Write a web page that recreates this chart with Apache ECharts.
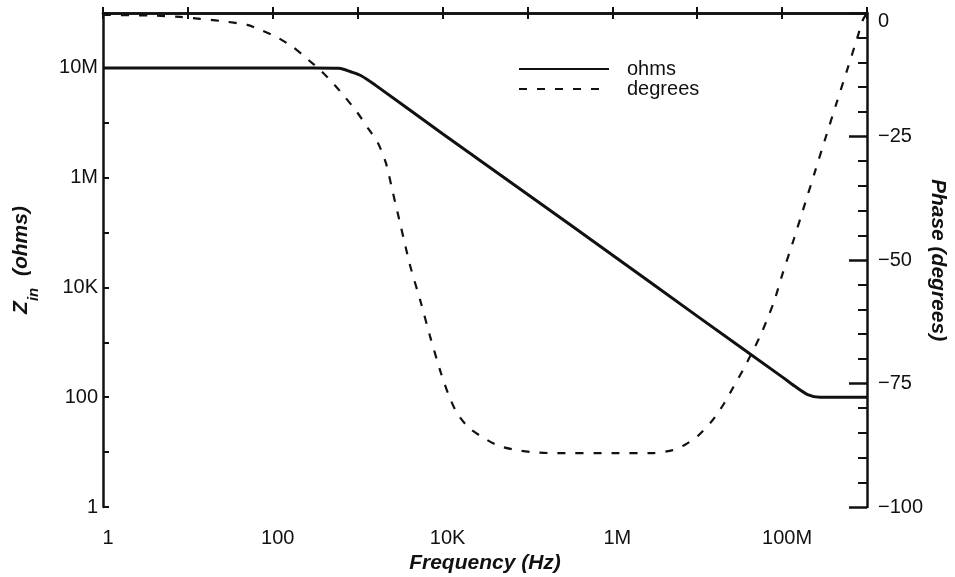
<!DOCTYPE html>
<html>
<head>
<meta charset="utf-8">
<style>
  html, body { margin: 0; padding: 0; background: #ffffff; }
  #chart { width: 955px; height: 577px; }
</style>
<script src="https://cdn.jsdelivr.net/npm/echarts@6/dist/echarts.min.js"></script>
</head>
<body>
<div id="chart"></div>
<script>
// Input impedance (ohms) vs frequency (Hz)
const freqZ = [1, 300, 600, 830, 1100, 1600, 1e4, 1e5, 1e6, 1e7, 1e8, 1.4e8, 2e8, 2.8e8, 1e9];
const ohms  = [1e8, 1e8, 9.8e7, 8.5e7, 7.2e7, 4.9e7, 6.3e6, 5.0e5, 3.9e4, 3.0e3, 235, 160, 112, 100, 100];

// Phase (degrees) vs frequency (Hz)
const freqP = [1, 3.6, 8.1, 14, 24, 50, 71, 112, 173, 239, 360,
  512, 708, 977, 1320, 1734, 2155, 2604, 3236, 4130, 5570, 7110, 9580,
  1.19e4, 1.48e4, 2.05e4, 3.33e4, 4.74e4, 7.52e4, 1.16e5, 2e5, 1e6, 2.92e6,
  5.17e6, 7.17e6, 1.02e7, 1.49e7, 2.01e7, 2.63e7, 3.45e7, 4.53e7, 5.78e7, 8.0e7,
  1.02e8, 1.38e8, 1.76e8, 2.43e8, 3.19e8, 4.42e8, 5.79e8, 7.6e8, 8.95e8, 1e9];
const degrees = [-0.4, -0.5, -0.8, -1.2, -1.6, -2.4, -3.4, -4.9, -6.9, -8.9, -11.5,
  -14.2, -17.0, -20.0, -23.3, -26.3, -30.4, -36.4, -43.3, -51.0, -58.7, -65.4, -72.9,
  -77.5, -81.0, -84.0, -86.4, -87.7, -88.5, -88.9, -89.1, -89.1, -89.1,
  -88.5, -87.4, -85.6, -82.6, -79.4, -75.9, -72.3, -68.4, -64.6, -58.5,
  -52.6, -45.7, -39.9, -32.2, -25.7, -18.0, -11.7, -5.3, -1.4, 0];

// Tick labels (exponent -> text), as printed on the chart
const xTickLabels = {0: '1', 2: '100', 4: '10K', 6: '1M', 8: '100M'};
const yTickLabels = {0: '1', 2: '100', 4: '10K', 6: '1M', 8: '10M'};
const phaseTickLabels = {0: '{top|0}', '-25': '\u221225', '-50': '\u221250', '-75': '\u221275', '-100': '\u2212100'};

const FONT = '"Liberation Sans", Arial, Helvetica, sans-serif';
const chart = echarts.init(document.getElementById('chart'), null, {renderer: 'canvas'});

function expOf(v) { return Math.round(Math.log10(v)); }

const axisLineStyle = {color: '#111', width: 2.5};

const option = {
  backgroundColor: '#ffffff',
  animation: false,
  grid: {left: 103, right: 88, top: 13, bottom: 70, containLabel: false, outerBoundsMode: 'none'},
  legend: {
    orient: 'vertical',
    left: 518, top: 59, padding: 0,
    itemWidth: 90, itemHeight: 14, itemGap: 0,
    data: ['ohms', 'degrees'],
    itemStyle: {opacity: 0},
    textStyle: {fontFamily: FONT, fontSize: 20, lineHeight: 19, color: '#111', padding: [0, 0, 0, 13]}
  },
  xAxis: [{
    type: 'log', logBase: 10, min: 1, max: 1e9,
    position: 'bottom',
    name: 'Frequency (Hz)', nameLocation: 'middle', nameGap: 46,
    nameTextStyle: {fontFamily: FONT, fontSize: 21, fontWeight: 'bold', fontStyle: 'italic', color: '#111'},
    axisLine: {show: true, lineStyle: axisLineStyle},
    axisTick: {show: true, inside: true, length: 6, lineStyle: {color: '#111', width: 2}},
    axisLabel: {
      fontFamily: FONT, fontSize: 20, color: '#111', margin: 21, padding: [0, 0, 0, 10],
      formatter: v => (xTickLabels[expOf(v)] !== undefined ? xTickLabels[expOf(v)] : '')
    },
    splitLine: {show: false}
  }, {
    type: 'log', logBase: 10, min: 1, max: 1e9,
    position: 'top',
    axisLine: {show: true, lineStyle: axisLineStyle},
    axisTick: {show: true, inside: true, length: 6, lineStyle: {color: '#111', width: 2}},
    axisLabel: {show: false},
    splitLine: {show: false}
  }],
  yAxis: [{
    type: 'log', logBase: 10, min: 1, max: 1e9, interval: 1,
    position: 'left',
    name: '{z|Z}{s|in}{z|  (ohms)}', nameLocation: 'middle', nameGap: 62, nameRotate: 90,
    nameTextStyle: {
      fontFamily: FONT, color: '#111',
      rich: {
        z: {fontFamily: FONT, fontSize: 21, fontWeight: 'bold', fontStyle: 'italic', color: '#111', lineHeight: 40, verticalAlign: 'middle'},
        s: {fontFamily: FONT, fontSize: 15, fontWeight: 'bold', fontStyle: 'italic', color: '#111', verticalAlign: 'bottom'}
      }
    },
    axisLine: {show: true, lineStyle: axisLineStyle},
    axisTick: {show: true, inside: true, length: 6, lineStyle: {color: '#111', width: 2}},
    axisLabel: {
      fontFamily: FONT, fontSize: 20, color: '#111', margin: 5,
      formatter: v => (yTickLabels[expOf(v)] !== undefined ? yTickLabels[expOf(v)] : '')
    },
    splitLine: {show: false}
  }, {
    type: 'value', min: -100, max: 0, interval: 25,
    position: 'right',
    name: 'Phase (degrees)', nameLocation: 'middle', nameGap: 60, nameRotate: -90,
    nameMoveOverlap: false,
    nameTextStyle: {fontFamily: FONT, fontSize: 21, fontWeight: 'bold', fontStyle: 'italic', color: '#111'},
    axisLine: {show: true, lineStyle: axisLineStyle},
    axisTick: {show: true, inside: true, length: 18, lineStyle: {color: '#111', width: 2.5}},
    minorTick: {show: true, splitNumber: 5, length: 9, lineStyle: {color: '#111', width: 2}},
    axisLabel: {
      fontFamily: FONT, fontSize: 20, color: '#111', margin: 11,
      formatter: v => (phaseTickLabels[String(Math.round(v))] || ''),
      rich: {top: {fontFamily: FONT, fontSize: 20, color: '#111', padding: [16, 0, 0, 0]}}
    },
    splitLine: {show: false}
  }],
  series: [{
    name: 'ohms', type: 'line',
    xAxisIndex: 0, yAxisIndex: 0,
    data: freqZ.map((f, i) => [f, ohms[i]]),
    showSymbol: false, symbol: 'none',
    smooth: 0.3,
    lineStyle: {color: '#111', width: 3, type: 'solid'},
    itemStyle: {color: '#111'}
  }, {
    name: 'degrees', type: 'line',
    xAxisIndex: 0, yAxisIndex: 1,
    data: freqP.map((f, i) => [f, degrees[i]]),
    showSymbol: false, symbol: 'none',
    smooth: 0.25,
    lineStyle: {color: '#111', width: 2.2, type: [8, 10]},
    itemStyle: {color: '#111'}
  }]
};
chart.setOption(option);
</script>
</body>
</html>
